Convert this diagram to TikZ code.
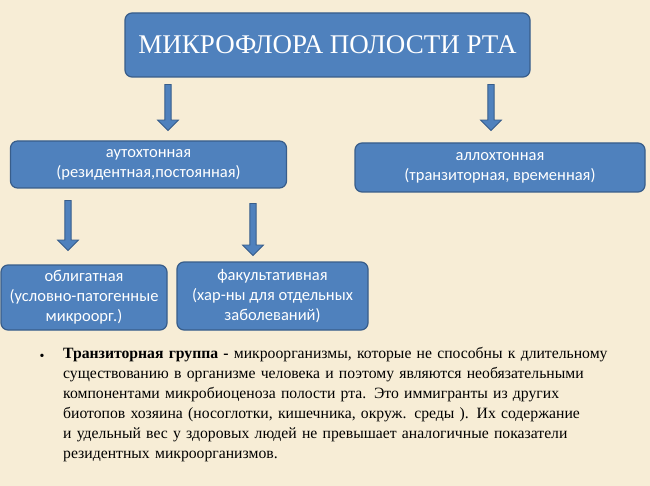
\documentclass[tikz,border=0pt]{standalone}
\usepackage{fontspec}
\setmainfont{Liberation Serif}
\newfontfamily\boxfont{Carlito}
\usetikzlibrary{shapes.arrows}
\definecolor{bg}{HTML}{F7EDD6}
\definecolor{bfill}{HTML}{4F81BD}
\definecolor{bdraw}{HTML}{385D8A}
\begin{document}
\begin{tikzpicture}[x=1pt,y=-1pt,
 box/.style={draw=bdraw,line width=1.2pt,fill=bfill,rounded corners=7pt,text=white,font=\boxfont\fontsize{16.5}{20}\selectfont,align=center},
 barrow/.style={single arrow,shape border rotate=270,draw=bdraw,fill=bfill,line width=0.8pt,minimum width=21pt,single arrow head extend=4.5pt,single arrow tip angle=90,inner sep=0pt,text width=3pt,anchor=center}]
\fill[bg] (0,0) rectangle (650,486);
\useasboundingbox (0,0) rectangle (650,486);
\node[box,minimum width=405pt,minimum height=64pt,font=\rmfamily\fontsize{27}{30}\selectfont] (top) at (327.5,45) {МИКРОФЛОРА ПОЛОСТИ РТА};
\node[box,minimum width=276pt,minimum height=47pt] (aut) at (148.5,164.5) {аутохтонная\\(резидентная,постоянная)};
\node[box,minimum width=290pt,minimum height=49pt] (allo) at (500,167.5) {аллохтонная\\(транзиторная, временная)};
\node[box,minimum width=166pt,minimum height=65pt,inner xsep=1pt] (obl) at (84,297.5) {облигатная\\(условно-патогенные\\микроорг.)};
\node[box,minimum width=191pt,minimum height=68pt] (fak) at (272.5,296) {факультативная\\(хар-ны для отдельных\\заболеваний)};
\node[barrow,minimum height=46pt] (a1) at (168,106) {};
\node[barrow,minimum height=46pt] (a2) at (491,106) {};
\node[barrow,minimum height=50pt] (a3) at (68,224) {};
\node[barrow,minimum height=52pt] (a4) at (253,228) {};
\node[inner sep=0pt] (bul) at (42,357) {\fontsize{14}{20}\selectfont•};
\node[anchor=north west,inner sep=0pt,text width=560pt,align=left,font=\fontsize{15.7}{20}\selectfont] (txt) at (63,347)
 {\textbf{Транзиторная группа -} микроорганизмы, которые не способны к длительному существованию в организме человека и поэтому являются необязательными компонентами микробиоценоза полости рта. Это иммигранты из других биотопов хозяина (носоглотки, кишечника, окруж. среды ). Их содержание и удельный вес у здоровых людей не превышает аналогичные показатели резидентных микроорганизмов.};
\end{tikzpicture}
\end{document}
